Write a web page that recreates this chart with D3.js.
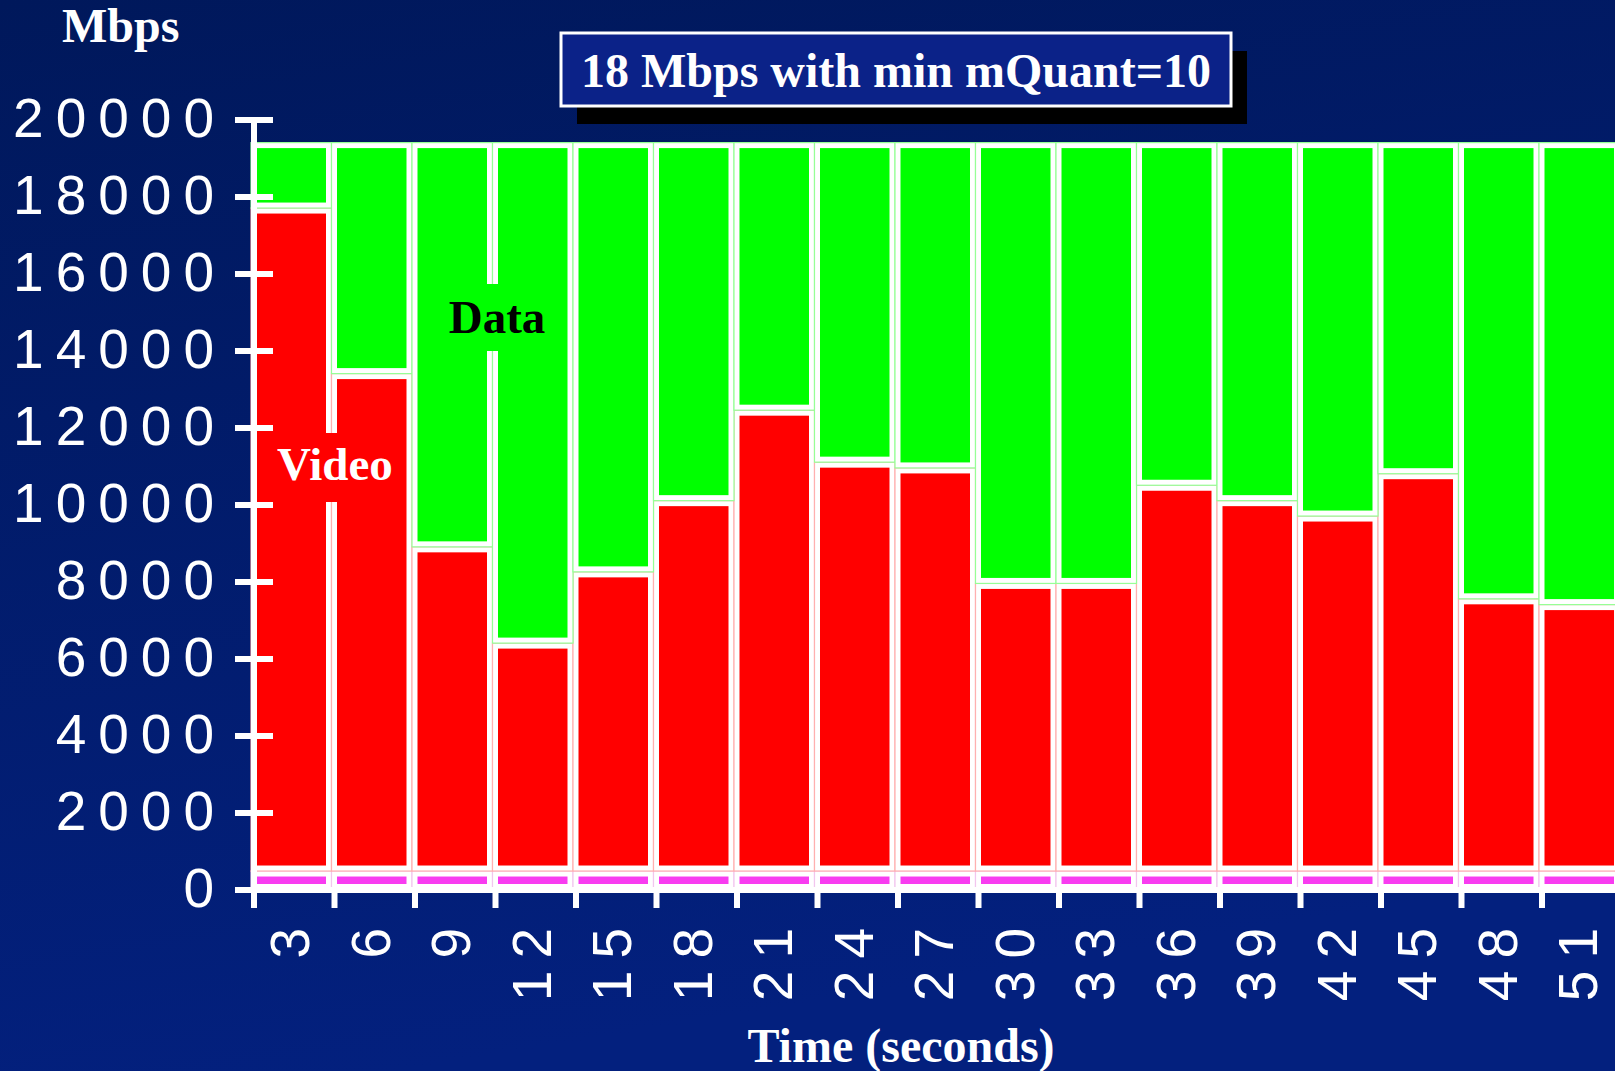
<!DOCTYPE html>
<html>
<head>
<meta charset="utf-8">
<script src="https://cdn.jsdelivr.net/npm/d3@7"></script>
<style>
  html, body { margin: 0; padding: 0; background: #011a60; overflow: hidden; }
  svg { display: block; }
</style>
</head>
<body>
<svg id="chart" width="1615" height="1071"></svg>
<script>
// Time in seconds (one bar per 3-second interval)
const times = [3, 6, 9, 12, 15, 18, 21, 24, 27, 30, 33, 36, 39, 42, 45, 48, 51];
// Stacked bandwidth shares per interval
const audio = [480, 480, 480, 480, 480, 480, 480, 480, 480, 480, 480, 480, 480, 480, 480, 480, 480];
const video = [17220, 12920, 8420, 5920, 7770, 9620, 11970, 10620, 10470, 7470, 7470, 10020, 9620, 9220, 10320, 7070, 6920];
const data  = [1700, 6000, 10500, 13000, 11150, 9300, 6950, 8300, 8450, 11450, 11450, 8900, 9300, 9700, 8600, 11850, 12000];
// Axis ticks
const yTicks = [0, 2000, 4000, 6000, 8000, 10000, 12000, 14000, 16000, 18000, 20000];

const W = 1615, H = 1071;
const SERIF = "'Liberation Serif', 'Times New Roman', serif";
const SANS = "'Liberation Sans', Arial, Helvetica, sans-serif";

const svg = d3.select('#chart');

// Navy backdrop
const defs = svg.append('defs');
const grad = defs.append('linearGradient').attr('id', 'bg')
  .attr('x1', 0).attr('y1', 0).attr('x2', 0.25).attr('y2', 1);
grad.append('stop').attr('offset', '0%').attr('stop-color', '#00185b');
grad.append('stop').attr('offset', '100%').attr('stop-color', '#03207e');
svg.append('rect').attr('width', W).attr('height', H).attr('fill', 'url(#bg)');

// Scales
const x = d3.scaleBand().domain(times).range([251, 251 + 17 * 80.5]).padding(0);
const y = d3.scaleLinear().domain([0, 20000]).range([889.5, 119.5]);

// Stacked segments
const rows = times.map((t, i) => ({ time: t, audio: audio[i], video: video[i], data: data[i] }));
const series = d3.stack().keys(['audio', 'video', 'data'])(rows);
const fills = { audio: '#f83cf0', video: '#ff0000', data: '#00ff00' };
const edges = { audio: '#f2c6ee', video: '#ffb0b0', data: '#96ff96' };
const inset = 5.5;

const bars = svg.append('g').attr('class', 'bars');
series.forEach(s => {
  const g = bars.append('g').attr('class', 'series-' + s.key);
  g.selectAll('rect.frame').data(s).join('rect')
    .attr('class', 'frame')
    .attr('x', d => x(d.data.time))
    .attr('y', d => y(d[1]))
    .attr('width', x.bandwidth())
    .attr('height', d => y(d[0]) - y(d[1]))
    .attr('fill', '#ffffff')
    .attr('stroke', edges[s.key])
    .attr('stroke-width', 1.2);
  g.selectAll('rect.fill').data(s).join('rect')
    .attr('class', 'fill')
    .attr('x', d => x(d.data.time) + inset)
    .attr('y', d => y(d[1]) + inset)
    .attr('width', x.bandwidth() - 2 * inset)
    .attr('height', d => Math.max(0, y(d[0]) - y(d[1]) - 2 * inset))
    .attr('fill', fills[s.key]);
});

// Series labels sitting on the bars
function tag(label, cx, baseline, bg, color, padX, top, bottom) {
  const g = svg.append('g');
  const t = g.append('text')
    .attr('x', cx).attr('y', baseline)
    .attr('text-anchor', 'middle')
    .attr('font-family', SERIF).attr('font-weight', 'bold')
    .attr('font-size', 47).attr('fill', color)
    .text(label);
  const bb = t.node().getBBox();
  g.insert('rect', 'text')
    .attr('x', bb.x - padX).attr('y', top)
    .attr('width', bb.width + 2 * padX).attr('height', bottom - top)
    .attr('fill', bg);
}
tag('Video', 335, 480, '#ff0000', '#ffffff', 10, 433, 502);
tag('Data', 497, 333, '#00ff00', '#000000', 8, 284, 351);

// Y axis
const yAxis = svg.append('g').attr('transform', 'translate(254,0)')
  .call(d3.axisLeft(y).tickValues(yTicks).tickFormat(d3.format('d')).tickSize(19).tickPadding(9));
yAxis.select('.domain').remove();
yAxis.selectAll('.tick line')
  .attr('x1', 19).attr('x2', -19)
  .attr('stroke', '#ffffff').attr('stroke-width', 6);
yAxis.selectAll('.tick text')
  .attr('fill', '#ffffff')
  .attr('font-family', SANS).attr('font-size', 55)
  .attr('letter-spacing', 12)
  .attr('dy', '0.30em');
svg.append('line')
  .attr('x1', 254).attr('x2', 254).attr('y1', y(20000)).attr('y2', 893)
  .attr('stroke', '#ffffff').attr('stroke-width', 6);

// X axis: boundary ticks and rotated time labels
const xg = svg.append('g').attr('transform', 'translate(0,890)');
xg.append('line')
  .attr('x1', 235).attr('x2', W).attr('y1', 0).attr('y2', 0)
  .attr('stroke', '#ffffff').attr('stroke-width', 6);
xg.selectAll('line.bound').data(times).join('line')
  .attr('class', 'bound')
  .attr('x1', d => x(d) + 3).attr('x2', d => x(d) + 3)
  .attr('y1', 0).attr('y2', 18)
  .attr('stroke', '#ffffff').attr('stroke-width', 6);
const xAxis = xg.append('g').call(d3.axisBottom(x).tickSize(0).tickFormat(d => String(d)));
xAxis.select('.domain').remove();
xAxis.selectAll('.tick text')
  .attr('fill', '#ffffff')
  .attr('font-family', SANS).attr('font-size', 55)
  .attr('letter-spacing', 12)
  .attr('text-anchor', 'end')
  .attr('transform', 'rotate(-90)')
  .attr('x', -26).attr('y', 0)
  .attr('dy', '0.33em');

// Axis titles
svg.append('text')
  .attr('x', 62).attr('y', 42)
  .attr('font-family', SERIF).attr('font-weight', 'bold')
  .attr('font-size', 48).attr('fill', '#ffffff')
  .text('Mbps');
svg.append('text')
  .attr('x', 901).attr('y', 1062)
  .attr('text-anchor', 'middle')
  .attr('font-family', SERIF).attr('font-weight', 'bold')
  .attr('font-size', 48).attr('fill', '#ffffff')
  .text('Time (seconds)');

// Title panel with drop shadow
const tb = { x: 561, y: 33, w: 670, h: 73 };
svg.append('rect')
  .attr('x', tb.x + 16).attr('y', tb.y + 18).attr('width', tb.w).attr('height', tb.h)
  .attr('fill', '#000000');
svg.append('rect')
  .attr('x', tb.x).attr('y', tb.y).attr('width', tb.w).attr('height', tb.h)
  .attr('fill', '#0b2288').attr('stroke', '#ffffff').attr('stroke-width', 3);
svg.append('text')
  .attr('x', tb.x + tb.w / 2).attr('y', 87)
  .attr('text-anchor', 'middle')
  .attr('font-family', SERIF).attr('font-weight', 'bold')
  .attr('font-size', 48).attr('fill', '#ffffff')
  .text('18 Mbps with min mQuant=10');
</script>
</body>
</html>
